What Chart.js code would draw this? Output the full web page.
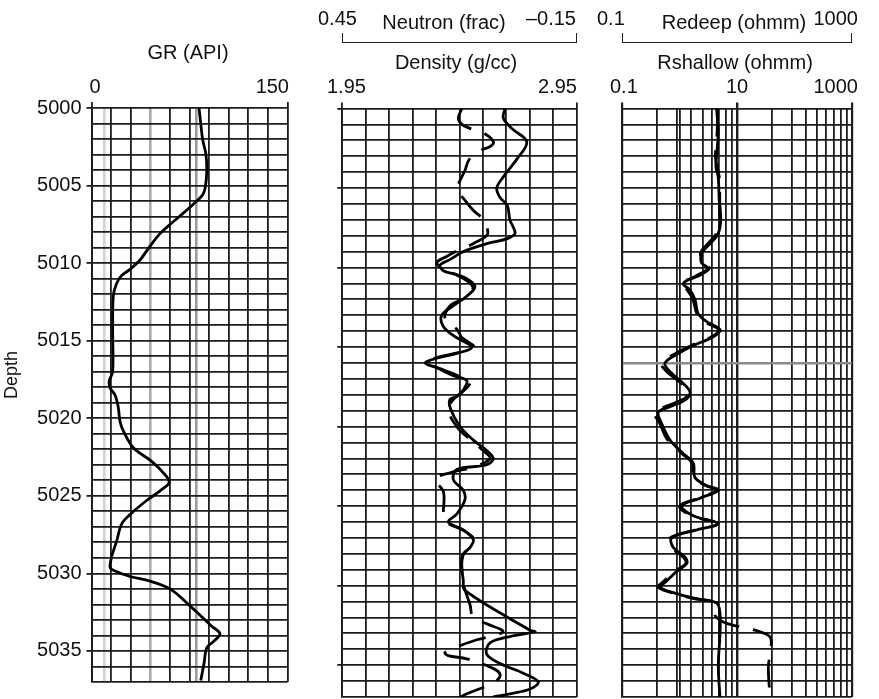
<!DOCTYPE html>
<html>
<head>
<meta charset="utf-8">
<title>Well log</title>
<script src="https://cdn.jsdelivr.net/npm/chart.js@4.4.1/dist/chart.umd.min.js"></script>
<style>
  html, body { margin: 0; padding: 0; background: #fff; }
  #wrap { position: relative; width: 879px; height: 699px; overflow: hidden;
          font-family: 'Liberation Sans', Arial, Helvetica, sans-serif; color: #111; }
  #wrap canvas { position: absolute; top: 0; }
  .lbl { position: absolute; white-space: nowrap; line-height: 1; }
  .brk { position: absolute; border: 1.6px solid #222; border-top: none; box-sizing: border-box; }
  .vlbl { position: absolute; white-space: nowrap; line-height: 1; font-size: 18px;
          transform: translate(-50%, -50%) rotate(-90deg); }
</style>
</head>
<body>
<div id="wrap">
  <canvas id="trackGR" width="300" height="699" style="left:0px"></canvas>
  <canvas id="trackND" width="300" height="699" style="left:300px"></canvas>
  <canvas id="trackRes" width="279" height="699" style="left:600px"></canvas>
</div>
<script>
// ---- depth range (ft) ----
const depthTop = 5000;
const depthBase = 5037;

// ---- Gamma ray (API) ----
const grDepth = [5000.0,5001.0,5002.05,5003.0,5004.1,5005.1,5005.6,5006.2,5006.96,5007.6,5008.1,5008.9,5009.8,5010.4,5010.8,5011.3,5012.1,5014.4,5017.0,5017.6,5018.05,5018.5,5019.3,5020.2,5020.8,5021.9,5022.7,5023.4,5024.1,5024.6,5025.3,5026.2,5026.8,5027.9,5028.9,5029.6,5029.8,5030.2,5030.5,5031.0,5031.9,5032.9,5033.4,5033.9,5034.4,5034.8,5035.8,5036.9];
const grValues = [82.3,83.6,85.1,87.6,88.2,87.1,85.1,77.9,67.7,58.8,52.4,44.8,37.1,29.5,23.1,19.3,16.7,16.2,16.2,13.6,14.2,18.0,20.5,21.8,24.3,32.0,44.8,53.7,59.5,53.7,42.2,29.5,23.1,19.3,15.5,14.2,16.7,29.5,44.8,60.1,72.9,85.6,92.0,98.3,93.2,88.2,86.1,83.6];

// ---- Bulk density (g/cc) ----
const densDepth = [5000.0,5000.6,5001.25,5002.1,5003.2,5004.3,5005.0,5005.6,5006.1,5007.0,5007.85,5008.2,5008.5,5009.0,5009.5,5009.85,5010.2,5010.4,5010.7,5011.2,5011.8,5012.4,5013.0,5013.7,5014.35,5015.0,5015.4,5015.7,5016.0,5016.3,5016.8,5017.1,5017.7,5018.1,5018.3,5018.9,5020.0,5020.85,5021.5,5022.0,5022.4,5022.7,5023.35,5024.0,5024.6,5025.5,5026.0,5026.5,5027.1,5027.6,5028.0,5028.6,5029.65,5030.3,5032.8,5032.9,5033.2,5033.6,5034.3,5034.9,5035.5,5036.05,5036.5,5036.8,5037.0];
const densValues = [2.644,2.637,2.673,2.737,2.694,2.637,2.609,2.623,2.654,2.665,2.687,2.651,2.566,2.466,2.409,2.367,2.381,2.424,2.481,2.516,2.481,2.424,2.374,2.381,2.431,2.502,2.438,2.353,2.303,2.353,2.424,2.481,2.466,2.438,2.409,2.412,2.452,2.509,2.566,2.594,2.566,2.438,2.424,2.466,2.473,2.438,2.402,2.466,2.509,2.495,2.466,2.459,2.466,2.473,2.751,2.772,2.665,2.580,2.566,2.623,2.722,2.786,2.751,2.665,2.594];

// ---- Neutron porosity (frac) ----
const neutDepth = [5000.0,5000.6,5001.0,5001.25,5001.56,5002.1,5002.4,5002.6,5003.2,5003.9,5004.3,5004.9,5005.25,5005.65,5006.4,5007.0,5007.45,5007.95,5008.5,5008.8,5009.3,5009.7,5010.15,5010.5,5011.2,5011.85,5012.4,5013.2,5013.9,5014.4,5015.0,5015.4,5015.75,5016.0,5016.4,5016.8,5017.2,5017.85,5018.3,5018.95,5020.1,5020.9,5021.5,5022.0,5022.5,5022.9,5023.3,5024.1,5025.9,5026.5,5027.2,5027.6,5028.1,5029.0,5030.0,5031.2,5032.0,5032.4,5032.9,5033.4,5033.7,5034.2,5034.4,5034.6,5035.2,5035.6,5036.05,5036.8,5037.0];
const neutValues = [0.144,0.153,0.144,0.123,0.087,0.063,0.072,0.093,0.125,0.136,0.144,0.155,0.154,0.140,0.115,0.087,0.080,0.079,0.115,0.144,0.183,0.208,0.187,0.154,0.116,0.133,0.174,0.187,0.156,0.144,0.113,0.162,0.220,0.231,0.195,0.154,0.123,0.144,0.166,0.179,0.154,0.118,0.090,0.072,0.109,0.174,0.213,0.191,0.187,0.141,0.108,0.123,0.141,0.144,0.139,0.123,0.115,0.080,0.039,0.105,0.141,0.187,0.179,0.131,0.064,0.046,0.059,0.131,0.149];

// ---- Shallow resistivity (ohmm) ----
const rshDepth = [5000.0,5001.5,5003.0,5003.7,5004.3,5005.8,5007.0,5007.85,5008.5,5008.8,5009.1,5009.7,5010.05,5010.5,5011.0,5011.4,5012.0,5012.9,5013.4,5013.9,5014.35,5014.9,5015.4,5016.0,5016.55,5017.2,5017.8,5018.25,5018.75,5019.1,5019.8,5020.85,5021.7,5022.3,5023.2,5023.7,5024.0,5024.5,5025.0,5025.6,5026.1,5026.5,5027.0,5027.6,5028.2,5028.6,5029.1,5029.8,5030.1,5030.5,5030.8,5031.1,5031.75,5033.0,5035.1,5037.0];
const rshValues = [4.4,4.7,4.4,4.3,4.7,4.9,5.2,4.7,3.4,2.8,2.4,2.4,3.1,2.0,1.16,1.5,1.85,2.1,2.96,5.05,3.86,1.73,0.95,0.555,0.68,1.09,1.51,1.33,0.68,0.424,0.486,0.68,1.16,1.73,1.85,2.96,4.72,2.26,1.09,1.73,4.72,1.98,0.727,0.775,1.24,1.33,0.889,0.555,0.454,0.889,1.85,4.43,5.05,5.05,4.72,5.05];

// ---- Deep resistivity (ohmm) ----
const rdpDepth = [5000.0,5001.5,5003.0,5003.7,5004.3,5005.8,5007.0,5007.85,5008.5,5008.8,5009.1,5009.7,5010.05,5010.5,5011.0,5011.4,5012.0,5012.9,5013.4,5013.9,5014.35,5014.9,5015.4,5016.0,5016.55,5017.2,5017.8,5018.25,5018.75,5019.1,5019.8,5020.85,5021.7,5022.3,5023.2,5023.7,5024.0,5024.5,5025.0,5025.6,5026.1,5026.5,5027.0,5027.6,5028.2,5028.6,5029.1,5029.8,5030.1,5030.5,5030.8,5031.1,5031.86,5032.28,5032.59,5032.8,5033.22,5034.06,5035.1,5037.0];
const rdpValues = [4.6,4.5,4.2,4.5,4.9,5.0,5.0,4.4,3.1,2.6,2.3,2.6,3.3,2.2,1.05,1.35,1.7,2.0,2.7,4.8,3.6,1.6,0.85,0.48,0.6,1.0,1.45,1.2,0.55,0.36,0.45,0.62,1.1,1.65,1.75,2.8,4.5,2.1,1.0,1.6,4.6,1.85,0.68,0.72,1.15,1.28,0.82,0.5,0.42,0.8,1.7,4.1,4.13,5.77,11.3,20.6,37.6,38.7,35.2,37.6];

// ---- scale grids and tick labels ----
const depthGrid = Array.from({length: depthBase - depthTop + 1}, (_, i) => depthTop + i);
const grGrid = [0, 10, 15, 30, 45, 60, 75, 80, 90, 105, 120, 135, 150];
const grShadeLines = {10: '#d2d2d2', 45: '#a9a9a9', 80: '#9c9c9c'};
const densGrid = Array.from({length: 11}, (_, i) => (195 + 10 * i) / 100);
const resGrid = [0.1, 0.4, 0.9, 1, 1.6, 2.5, 3.6, 4.9, 6.4, 8.1, 10, 40, 90, 160, 250, 360, 490, 640, 810, 1000];

const headerLabels = [
  {text: 'GR (API)', x: 188, y: 52, align: 'center'},
  {text: '0', x: 95, y: 86, align: 'center'},
  {text: '150', x: 289, y: 86, align: 'right'},
  {text: '0.45', x: 318, y: 18, align: 'left'},
  {text: 'Neutron (frac)', x: 444, y: 22, align: 'center'},
  {text: '\u20130.15', x: 576, y: 18, align: 'right'},
  {text: 'Density (g/cc)', x: 456, y: 62, align: 'center'},
  {text: '1.95', x: 327, y: 86, align: 'left'},
  {text: '2.95', x: 577, y: 86, align: 'right'},
  {text: '0.1', x: 597, y: 18, align: 'left'},
  {text: 'Redeep (ohmm)', x: 734, y: 22, align: 'center'},
  {text: '1000', x: 858, y: 18, align: 'right'},
  {text: 'Rshallow (ohmm)', x: 735, y: 62, align: 'center'},
  {text: '0.1', x: 610, y: 86, align: 'left'},
  {text: '10', x: 737, y: 86, align: 'center'},
  {text: '1000', x: 858, y: 86, align: 'right'}
];

// ---- header text, brackets and depth title ----
const wrap = document.getElementById('wrap');
const HEAD_FONT = 20;
headerLabels.forEach(l => {
  const d = document.createElement('div');
  d.className = 'lbl';
  d.textContent = l.text;
  d.style.fontSize = HEAD_FONT + 'px';
  d.style.top = (l.y - 0.49 * HEAD_FONT) + 'px';
  if (l.align === 'left') d.style.left = l.x + 'px';
  else if (l.align === 'right') d.style.right = (879 - l.x) + 'px';
  else { d.style.left = l.x + 'px'; d.style.transform = 'translateX(-50%)'; }
  wrap.appendChild(d);
});
[[342, 577], [622, 852]].forEach(([a, b]) => {
  const d = document.createElement('div');
  d.className = 'brk';
  d.style.left = a + 'px';
  d.style.width = (b - a) + 'px';
  d.style.top = '33px';
  d.style.height = '10px';
  wrap.appendChild(d);
});
const depthTitle = document.createElement('div');
depthTitle.className = 'vlbl';
depthTitle.textContent = 'Depth';
depthTitle.style.left = '11px';
depthTitle.style.top = '375px';
wrap.appendChild(depthTitle);

// ---- shared chart helpers ----
const INK = '#1c1c1c';
const GRID_W = 1.8;
const CLEAR = 'rgba(0,0,0,0)';
const pts = (xs, ys) => xs.map((v, i) => ({x: v, y: ys[i]}));

function curve(data, axisId, dashed) {
  return {
    data, xAxisID: axisId, yAxisID: 'y',
    showLine: true, borderColor: '#000', borderWidth: 2.8,
    borderDash: dashed ? [28, 14] : [], pointRadius: 0, tension: 0.35, fill: false
  };
}

function depthAxis(width, o) {
  return {
    type: 'linear', min: depthTop, max: depthBase, reverse: true,
    afterFit: s => { s.width = width; },
    afterBuildTicks: s => { s.ticks = depthGrid.map(v => ({value: v})); },
    ticks: {
      display: !!o.labels, autoSkip: false, padding: 5, color: '#111',
      font: {size: 20}, callback: v => (v % 5 === 0 ? String(v) : '')
    },
    grid: {
      lineWidth: c => (o.grey && c.tick && c.tick.value === o.grey ? 2.6 : GRID_W),
      color: c => (o.grey && c.tick && c.tick.value === o.grey ? '#8a8a8a' : INK),
      tickLength: 5,
      tickColor: c => (o.marks && c.tick && c.tick.value % 5 === 0 ? INK : CLEAR)
    },
    border: {display: true, color: INK, width: GRID_W},
    title: {display: false}
  };
}

function topAxis(type, min, max, grid, style) {
  const ends = style.marks;
  return {
    type, min, max, position: 'top',
    afterFit: s => { s.height = 0; },
    afterBuildTicks: s => { s.ticks = grid.map(v => ({value: v})); },
    ticks: {display: false},
    grid: {
      color: c => (c.tick && style.colors[c.tick.value]) || INK,
      lineWidth: c => (c.tick && style.widths[c.tick.value]) || GRID_W,
      tickLength: 6,
      tickColor: c => (c.tick && ends.includes(c.tick.value) ? INK : CLEAR)
    },
    border: {display: false}
  };
}

function baseOptions(padding, scales) {
  return {
    responsive: false, animation: false, events: [],
    layout: {padding},
    plugins: {legend: {display: false}, tooltip: {enabled: false}},
    scales
  };
}

Chart.defaults.font.family = "'Liberation Sans', Arial, Helvetica, sans-serif";
Chart.defaults.color = '#111';

// ---- Track 1: gamma ray ----
const grWidths = {10: 2.6, 45: 2.6, 80: 2.6};
new Chart(document.getElementById('trackGR'), {
  type: 'scatter',
  data: {datasets: [curve(pts(grValues, grDepth), 'x', false)]},
  options: baseOptions({left: 0, right: 12.5, top: 108, bottom: 13}, {
    x: topAxis('linear', 0, 150, grGrid, {colors: grShadeLines, widths: grWidths, marks: [0, 150]}),
    y: depthAxis(91.5, {labels: true, marks: true})
  })
});

// ---- Track 2: neutron / density ----
new Chart(document.getElementById('trackND'), {
  type: 'scatter',
  data: {datasets: [
    curve(pts(densValues, densDepth), 'x', false),
    curve(pts(neutValues, neutDepth), 'xn', true)
  ]},
  options: baseOptions({left: 0, right: 23.3, top: 108.5, bottom: 2}, {
    x: topAxis('linear', 1.95, 2.95, densGrid, {colors: {}, widths: {}, marks: [1.95, 2.95]}),
    xn: {type: 'linear', min: -0.15, max: 0.45, reverse: true, display: false},
    y: depthAxis(42.3, {labels: false, marks: true})
  })
});

// ---- Track 3: resistivity ----
new Chart(document.getElementById('trackRes'), {
  type: 'scatter',
  data: {datasets: [
    curve(pts(rshValues, rshDepth), 'x', false),
    curve(pts(rdpValues, rdpDepth), 'x', true)
  ]},
  options: baseOptions({left: 0, right: 27.3, top: 108.5, bottom: 2}, {
    x: topAxis('logarithmic', 0.1, 1000, resGrid, {colors: {}, widths: {0.1: 2.2, 10: 2.4, 1000: 2.2}, marks: [0.1, 10, 1000]}),
    y: depthAxis(22.3, {labels: false, marks: false, grey: 5016})
  })
});
</script>
</body>
</html>
